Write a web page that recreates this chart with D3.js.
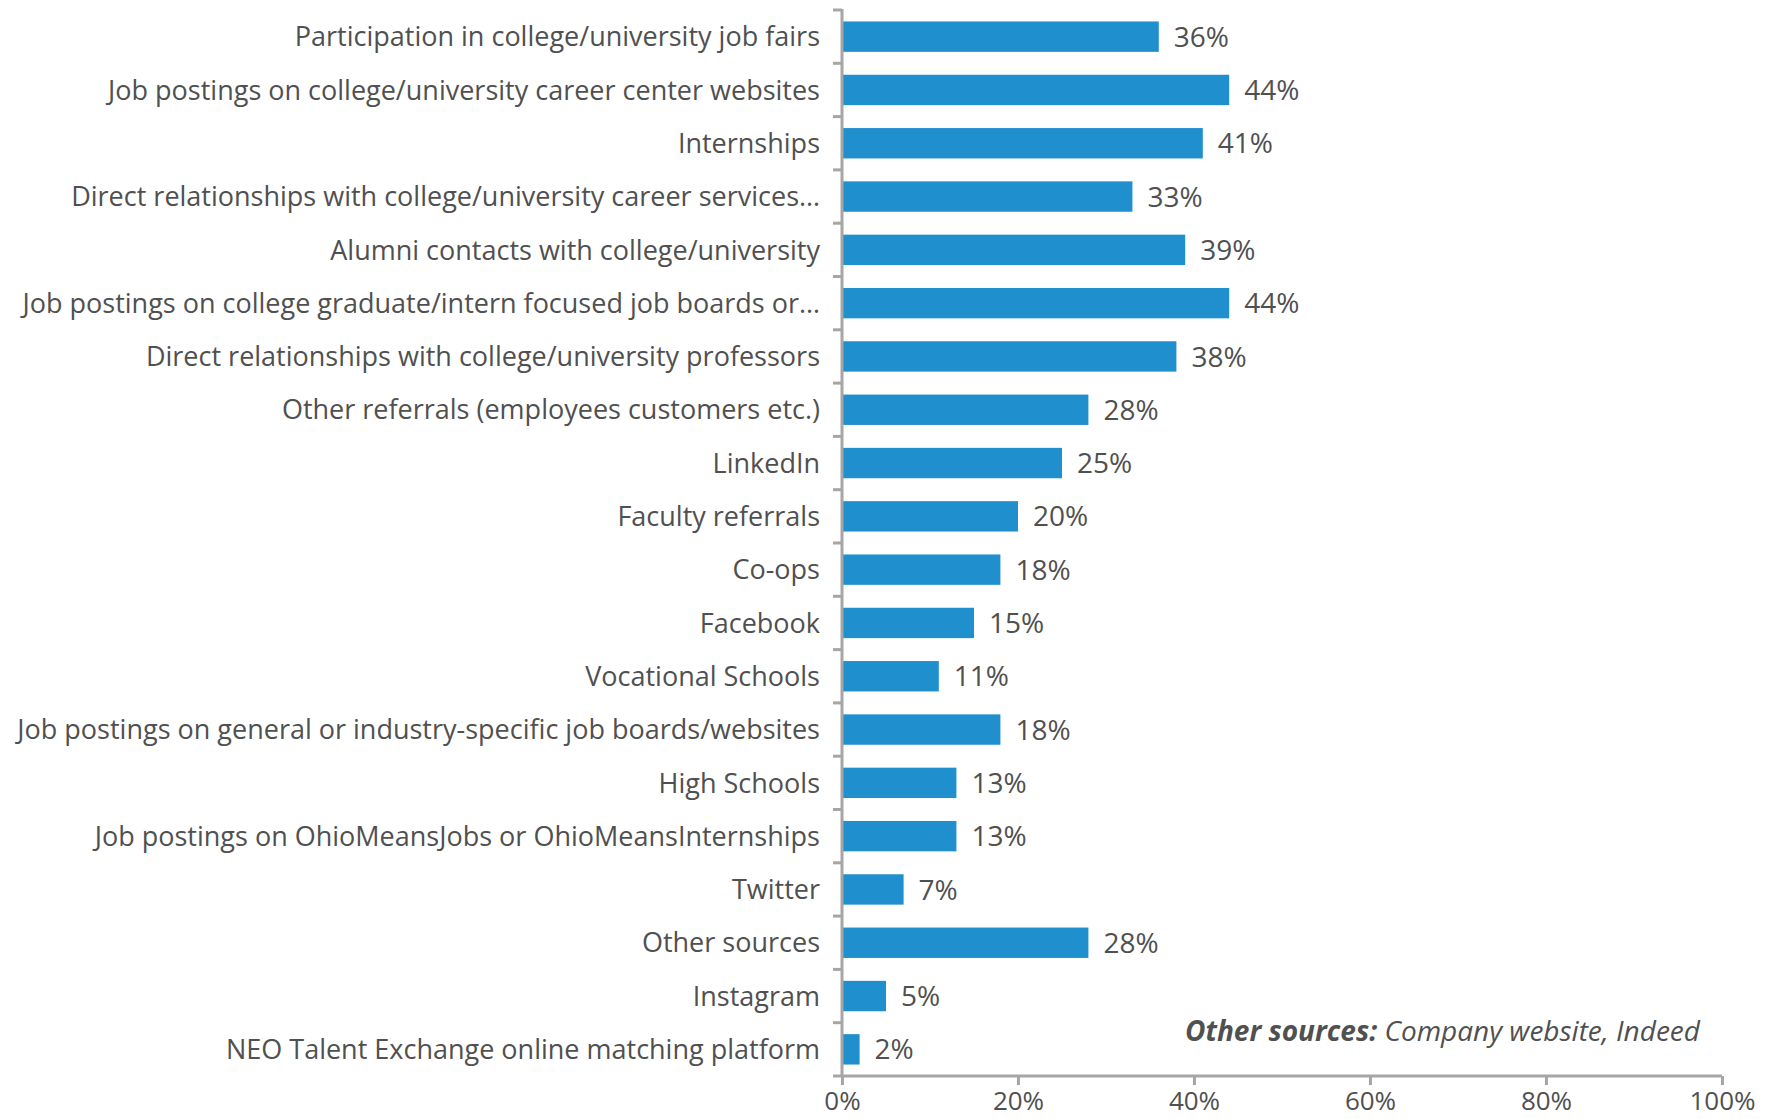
<!DOCTYPE html>
<html>
<head>
<meta charset="utf-8">
<script src="https://cdn.jsdelivr.net/npm/d3@7"></script>
<style>
  html, body { margin: 0; padding: 0; background: #fff; }
  svg { display: block; font-family: "Open Sans", Lato, sans-serif; }
</style>
</head>
<body>
<svg id="chart" width="1776" height="1119"></svg>
<script>
// Recruiting sources used, share of respondents
const categories = [
  "Participation in college/university job fairs",
  "Job postings on college/university career center websites",
  "Internships",
  "Direct relationships with college/university career services\u2026",
  "Alumni contacts with college/university",
  "Job postings on college graduate/intern focused job boards or\u2026",
  "Direct relationships with college/university professors",
  "Other referrals (employees customers etc.)",
  "LinkedIn",
  "Faculty referrals",
  "Co-ops",
  "Facebook",
  "Vocational Schools",
  "Job postings on general or industry-specific job boards/websites",
  "High Schools",
  "Job postings on OhioMeansJobs or OhioMeansInternships",
  "Twitter",
  "Other sources",
  "Instagram",
  "NEO Talent Exchange online matching platform"
];
const values = [36, 44, 41, 33, 39, 44, 38, 28, 25, 20, 18, 15, 11, 18, 13, 13, 7, 28, 5, 2];
const xTicks = [0, 20, 40, 60, 80, 100];

const svg = d3.select("#chart");
const plot = { left: 842, right: 1722, top: 10, bottom: 1076 };
const axisColor = "#a6a6a6";
const textColor = "#505050";
const barColor = "#208fce";

const x = d3.scaleLinear().domain([0, 100]).range([plot.left, plot.right]);
const y = d3.scaleBand().domain(categories).range([plot.top, plot.bottom])
  .paddingInner(0.43).paddingOuter(0.215);

// bars
svg.append("g").selectAll("rect")
  .data(categories)
  .join("rect")
  .attr("x", x(0))
  .attr("y", d => y(d))
  .attr("width", (d, i) => x(values[i]) - x(0))
  .attr("height", y.bandwidth())
  .attr("fill", barColor);

// value labels
svg.append("g").selectAll("text")
  .data(categories)
  .join("text")
  .attr("x", (d, i) => x(values[i]) + 15)
  .attr("y", d => y(d) + y.bandwidth() / 2)
  .attr("dy", "0.36em")
  .attr("font-size", 28)
  .attr("fill", textColor)
  .text((d, i) => values[i] + "%");

// category labels
svg.append("g").selectAll("text")
  .data(categories)
  .join("text")
  .attr("x", plot.left - 22)
  .attr("y", d => y(d) + y.bandwidth() / 2)
  .attr("dy", "0.36em")
  .attr("text-anchor", "end")
  .attr("font-size", 27)
  .attr("fill", textColor)
  .text(d => d);

// y axis line with category separator ticks
const yAxis = svg.append("g");
yAxis.append("line")
  .attr("x1", plot.left).attr("x2", plot.left)
  .attr("y1", plot.top - 1).attr("y2", plot.bottom)
  .attr("stroke", axisColor).attr("stroke-width", 3);
yAxis.selectAll("line.sep")
  .data(d3.range(categories.length + 1))
  .join("line")
  .attr("class", "sep")
  .attr("x1", plot.left - 9).attr("x2", plot.left)
  .attr("y1", i => plot.top + i * y.step())
  .attr("y2", i => plot.top + i * y.step())
  .attr("stroke", axisColor).attr("stroke-width", 3);

// x axis
const xAxis = svg.append("g")
  .attr("transform", `translate(0,${plot.bottom})`)
  .call(d3.axisBottom(x).tickValues(xTicks).tickFormat(d => d + "%").tickSize(9).tickPadding(7));
xAxis.select(".domain").attr("stroke", axisColor).attr("stroke-width", 3)
  .attr("d", `M${plot.left},0H${plot.right}`);
xAxis.selectAll(".tick line").attr("stroke", axisColor).attr("stroke-width", 3);
xAxis.selectAll(".tick text")
  .attr("font-size", 26)
  .attr("font-family", "'Open Sans', Lato, sans-serif")
  .attr("fill", textColor);

// note on the "Other sources" category
const note = svg.append("text")
  .attr("x", 1700).attr("y", 1041)
  .attr("text-anchor", "end")
  .attr("font-size", 28)
  .attr("font-style", "italic")
  .attr("fill", textColor);
note.append("tspan").attr("font-weight", "bold").text("Other sources:");
note.append("tspan").text(" Company website, Indeed");
</script>
</body>
</html>
